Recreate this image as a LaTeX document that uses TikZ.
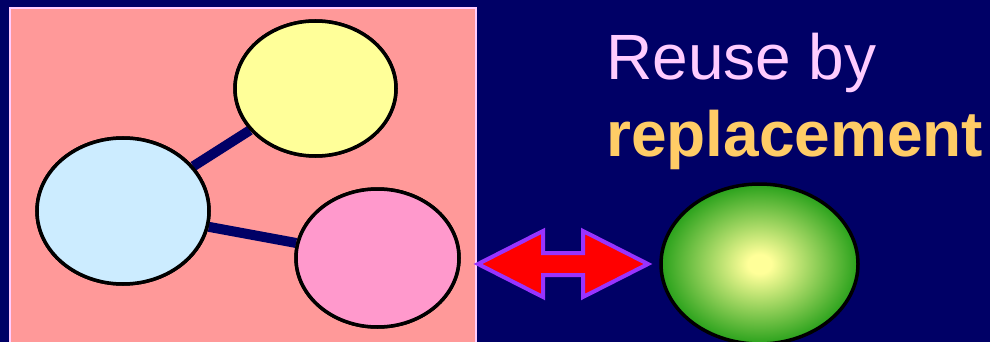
\documentclass[tikz,border=0pt]{standalone}
\usepackage{fontspec}
\setmainfont{Liberation Sans}
\usetikzlibrary{shapes.geometric}
\definecolor{navy}{HTML}{000066}
\definecolor{boxfill}{HTML}{FF9999}
\definecolor{boxline}{HTML}{FFCCFF}
\definecolor{yfill}{HTML}{FFFF99}
\definecolor{bfill}{HTML}{CCECFF}
\definecolor{pfill}{HTML}{FF99CC}
\definecolor{arrowred}{HTML}{FF0000}
\definecolor{arrowline}{HTML}{9933FF}
\definecolor{titlepink}{HTML}{FFCCFF}
\definecolor{titlegold}{HTML}{FFCC66}
\definecolor{ballgreen}{HTML}{169910}
\definecolor{ballyellow}{HTML}{FFFF99}
\pgfdeclareradialshading{ballshade}{\pgfpoint{0bp}{0bp}}{%
  color(0bp)=(ballyellow);
  color(3bp)=(ballyellow);
  color(27bp)=(ballgreen);
  color(100bp)=(ballgreen)}
\tikzset{
  bubble/.style={ellipse, draw=black, line width=3.5pt, inner sep=0pt},
  link/.style={draw=navy, line width=10pt},
  title/.style={anchor=base west, inner sep=0pt, font=\fontsize{64}{64}\selectfont}
}
\begin{document}
\begin{tikzpicture}[x=1pt,y=-1pt]
\fill[navy] (0,0) rectangle (990,342);
\useasboundingbox (0,0) rectangle (990,342);
\draw[fill=boxfill, draw=boxline, line width=2.5pt] (10,8) rectangle (476,360);
% nodes
\node[bubble, fill=yfill, minimum width=161pt, minimum height=135pt] (y) at (315.5,88.5) {};
\node[bubble, fill=bfill, minimum width=172pt, minimum height=146pt] (b) at (123,211) {};
\node[bubble, fill=pfill, minimum width=163pt, minimum height=138pt] (p) at (377.5,258) {};
% links
\path[link] (b) -- (y);
\path[link] (b) -- (p);
% redraw bubbles on top of links
\node[bubble, fill=yfill, minimum width=161pt, minimum height=135pt] at (315.5,88.5) {};
\node[bubble, fill=bfill, minimum width=172pt, minimum height=146pt] at (123,211) {};
\node[bubble, fill=pfill, minimum width=163pt, minimum height=138pt] at (377.5,258) {};
% double arrow
\draw[fill=arrowred, draw=arrowline, line width=4pt, line join=miter]
  (478,264) -- (543,231) -- (543,253) -- (583,253) -- (583,231) -- (648,264)
  -- (583,297) -- (583,275) -- (543,275) -- (543,297) -- cycle;
% green ball
\node[ellipse, draw=black, line width=3.5pt, inner sep=0pt, minimum width=197pt, minimum height=160pt,
  shading=ballshade] (g) at (759.5,264) {};
% titles
\node[title, text=titlepink] (t1) at (606,80) {Reuse by};
\node[title, text=titlegold, font=\fontsize{64}{64}\selectfont\bfseries] (t2) at (606,157) {replacement};
\end{tikzpicture}
\end{document}
